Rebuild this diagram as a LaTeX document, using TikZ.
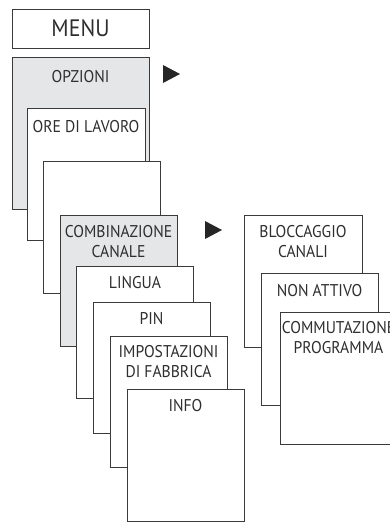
\documentclass[tikz,border=0pt]{standalone}
\usepackage{fontspec}
\newfontfamily\boxfont[FakeStretch=0.92]{PT Sans}
\definecolor{linec}{HTML}{3A3A3A}
\definecolor{grayfill}{HTML}{E5E6E8}
\definecolor{textc}{HTML}{2E2E2E}
\tikzset{
  box/.style={draw=linec, line width=1pt, fill=white, minimum width=117pt, minimum height=132pt, anchor=north west, inner sep=0pt, outer sep=0pt},
  graybox/.style={box, fill=grayfill},
  lab/.style={font=\boxfont\fontsize{17}{20.7}\selectfont, text=textc, align=center, anchor=base, inner sep=0pt},
  tri/.style={fill=black!85}
}
\begin{document}
\begin{tikzpicture}[x=1pt,y=-1pt]
\useasboundingbox (0,0) rectangle (390,522);
\clip (0,0) rectangle (390,522);
% left column
\node[box, minimum width=137pt, minimum height=39pt] (menu) at (12,9) {};
\node[lab, font=\boxfont\fontsize{23.8}{26}\selectfont] (menut) at ([yshift=-27.7pt]menu.north) {MENU};
\node[graybox, minimum width=137pt, minimum height=152pt] (opz) at (12,57) {};
\node[lab] (opzt) at ([yshift=-25pt]opz.north) {OPZIONI};
\node[box, minimum width=118pt] (ore) at (27,108) {};
\node[lab] (oret) at ([yshift=-24pt]ore.north) {ORE DI LAVORO};
\node[box] (blank) at (43,161) {};
\node[graybox, minimum height=131pt] (comb) at (60,215) {};
\node[lab] (combt) at ([yshift=-42.7pt]comb.north) {COMBINAZIONE\\CANALE};
\node[box] (lingua) at (76.5,266) {};
\node[lab] (linguat) at ([yshift=-22pt]lingua.north) {LINGUA};
\node[box, minimum height=131pt] (pin) at (93,302) {};
\node[lab] (pint) at ([yshift=-22pt]pin.north) {PIN};
\node[box, minimum height=131pt] (imp) at (110,336) {};
\node[lab] (impt) at ([yshift=-41.7pt]imp.north) {IMPOSTAZIONI\\DI FABBRICA};
\node[box] (info) at (127,389) {};
\node[lab] (infot) at ([yshift=-22pt]info.north) {INFO};
% right column
\node[box, minimum width=118pt] (blocc) at (244,215) {};
\node[lab] (bloct) at ([yshift=-42.7pt]blocc.north) {BLOCCAGGIO\\CANALI};
\node[box] (non) at (261,273) {};
\node[lab] (nont) at ([yshift=-23pt]non.north) {NON ATTIVO};
\node[box] (comm) at (280,312) {};
\node[lab] (commt) at ([yshift=-41.7pt]comm.north) {COMMUTAZIONE\\PROGRAMMA};
% arrows
\fill[tri] (163,65) -- (180,74) -- (163,83) -- cycle;
\fill[tri] (205,221) -- (222,230) -- (205,239) -- cycle;
\end{tikzpicture}
\end{document}
